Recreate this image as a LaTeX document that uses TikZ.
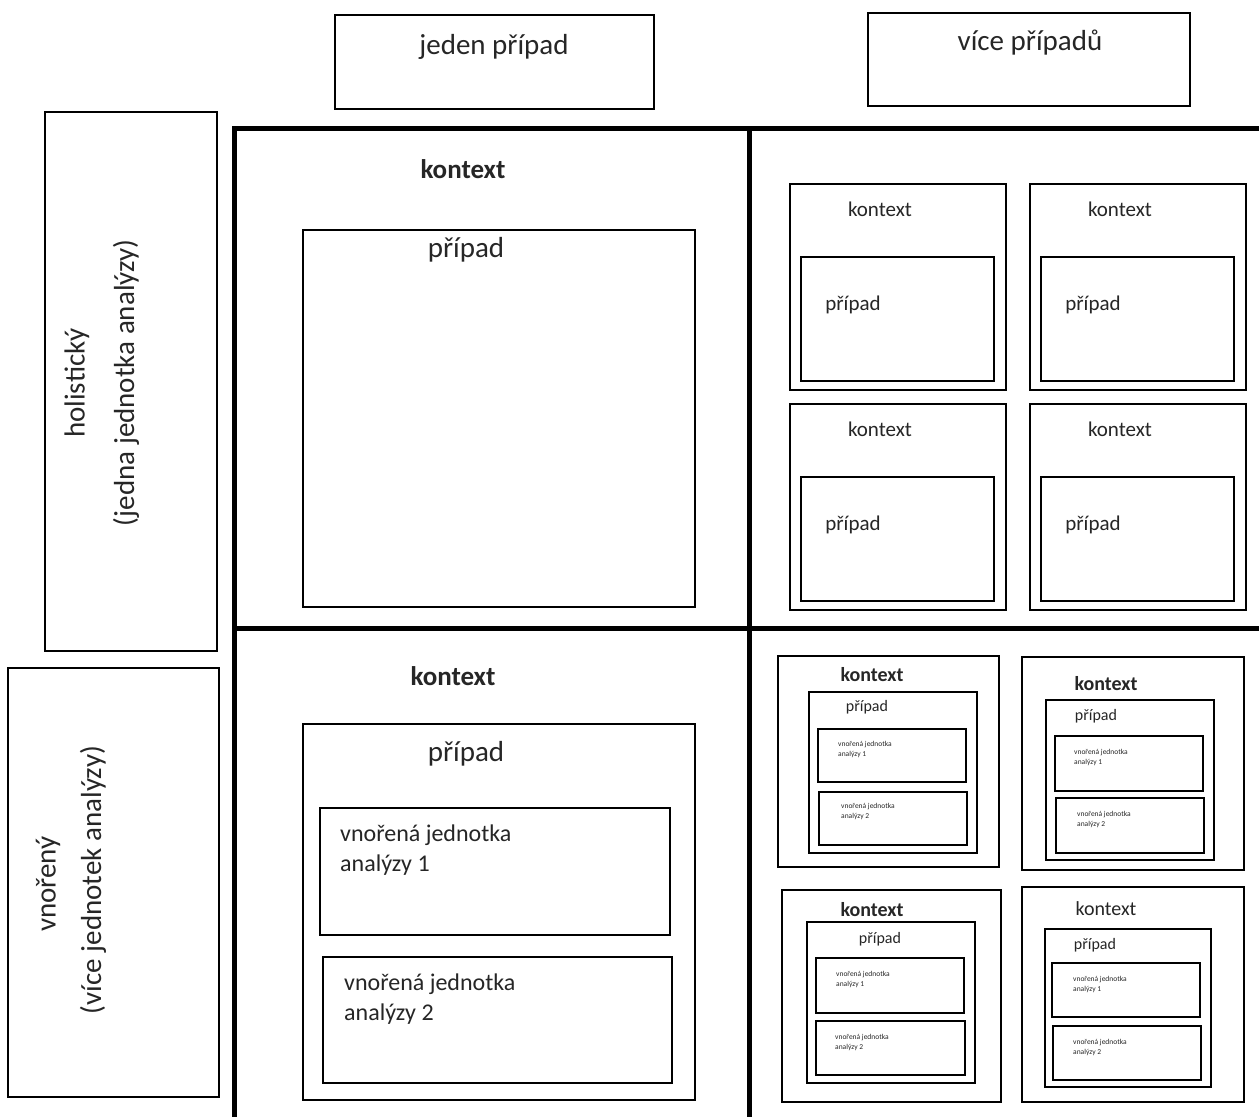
\documentclass[tikz,border=0pt]{standalone}
\usepackage{fontspec}
\setmainfont{Carlito}
\begin{document}
\begin{tikzpicture}[x=1pt,y=-1pt,
  hbox/.style={draw, line width=2pt},
  mbox/.style={draw, line width=2.6pt},
  gridline/.style={line width=5pt},
  txt/.style={inner sep=0pt, anchor=center, text=black!85},
  big/.style={font=\fontsize{29}{35}\selectfont},
  bigb/.style={font=\fontsize{27}{32}\bfseries\selectfont},
  mid/.style={font=\fontsize{24}{30}\selectfont},
  sm/.style={font=\fontsize{21}{25}\selectfont},
  smb/.style={font=\fontsize{20}{24}\bfseries\selectfont},
  smr/.style={font=\fontsize{20}{24}\selectfont},
  pp/.style={font=\fontsize{16}{19}\selectfont},
  tiny/.style={font=\fontsize{7.5}{10}\selectfont, align=left, anchor=north west}]
\useasboundingbox (0,0) rectangle (1259,1117);
\fill[white] (0,0) rectangle (1259,1117);

% header boxes
\draw[hbox] (335,15) rectangle (654,109);
\node[txt,big] (hjeden) at (494,47) {jeden případ};
\draw[hbox] (868,13) rectangle (1190,106);
\node[txt,big] (hvice) at (1030,43) {více případů};

% side boxes
\draw[hbox] (45,112) rectangle (217,651);
\node[txt,big,rotate=90] (hol1) at (77,383) {holistický};
\node[txt,big,rotate=90] (hol2) at (126,383) {(jedna jednotka analýzy)};
\draw[hbox] (8,668) rectangle (219,1097);
\node[txt,big,rotate=90] (vn1) at (48,884) {vnořený};
\node[txt,big,rotate=90] (vn2) at (93,880) {(více jednotek analýzy)};

% grid
\draw[gridline] (234,128) -- (1259,128);
\draw[gridline] (234,628) -- (1259,628);
\draw[gridline] (234,126) -- (234,1117);
\draw[gridline] (749,126) -- (749,1117);

% top-left quadrant
\node[txt,bigb] (k1) at (463,169) {kontext};
\draw[hbox] (303,230) rectangle (695,607);
\node[txt,big] (p1) at (466,250) {případ};

% top-right quadrant
\foreach \dx/\dy [count=\i] in {0/0, 240/0, 0/220, 240/220} {
  \draw[mbox] (790+\dx,184+\dy) rectangle (1006+\dx,390+\dy);
  \node[txt,sm] (kq\i) at (880+\dx,209+\dy) {kontext};
  \draw[hbox] (801+\dx,257+\dy) rectangle (994+\dx,381+\dy);
  \node[txt,sm] (pq\i) at (853+\dx,305+\dy) {případ};
}

% bottom-left quadrant
\node[txt,bigb] (k2) at (453,676) {kontext};
\draw[hbox] (303,724) rectangle (695,1100);
\node[txt,big] (p2) at (466,754) {případ};
\draw[hbox] (320,808) rectangle (670,935);
\node[txt,mid,align=left,anchor=north west] (u1) at (340,825) {vnořená jednotka\\analýzy 1};
\draw[hbox] (323,957) rectangle (672,1083);
\node[txt,mid,align=left,anchor=north west] (u2) at (344,974) {vnořená jednotka\\analýzy 2};

% bottom-right quadrant: box A
\draw[mbox] (778,656) rectangle (999,867);
\node[txt,smb] (kA) at (872,675) {kontext};
\draw[mbox] (809,692) rectangle (977,853);
\node[txt,pp] (pA) at (867,707) {případ};
\draw[hbox] (818,729) rectangle (966,782);
\node[txt,tiny] (a1) at (838,741) {vnořená jednotka\\analýzy 1};
\draw[hbox] (819,792) rectangle (967,845);
\node[txt,tiny] (a2) at (841,803) {vnořená jednotka\\analýzy 2};

% box B
\draw[mbox] (1022,657) rectangle (1244,870);
\node[txt,smb] (kB) at (1106,684) {kontext};
\draw[mbox] (1046,700) rectangle (1214,860);
\node[txt,pp] (pB) at (1096,716) {případ};
\draw[hbox] (1055,736) rectangle (1203,791);
\node[txt,tiny] (b1) at (1074,749) {vnořená jednotka\\analýzy 1};
\draw[hbox] (1056,798) rectangle (1204,853);
\node[txt,tiny] (b2) at (1077,811) {vnořená jednotka\\analýzy 2};

% box C
\draw[mbox] (782,890) rectangle (1001,1102);
\node[txt,smb] (kC) at (872,910) {kontext};
\draw[mbox] (807,922) rectangle (975,1083);
\node[txt,pp] (pC) at (880,939) {případ};
\draw[hbox] (816,958) rectangle (964,1013);
\node[txt,tiny] (c1) at (836,971) {vnořená jednotka\\analýzy 1};
\draw[hbox] (816,1021) rectangle (965,1075);
\node[txt,tiny] (c2) at (835,1034) {vnořená jednotka\\analýzy 2};

% box D
\draw[mbox] (1022,887) rectangle (1244,1102);
\node[txt,smr] (kD) at (1106,909) {kontext};
\draw[hbox] (1045,929) rectangle (1211,1087);
\node[txt,pp] (pD) at (1095,945) {případ};
\draw[hbox] (1052,963) rectangle (1200,1017);
\node[txt,tiny] (d1) at (1073,976) {vnořená jednotka\\analýzy 1};
\draw[hbox] (1053,1026) rectangle (1201,1080);
\node[txt,tiny] (d2) at (1073,1039) {vnořená jednotka\\analýzy 2};
\end{tikzpicture}
\end{document}
